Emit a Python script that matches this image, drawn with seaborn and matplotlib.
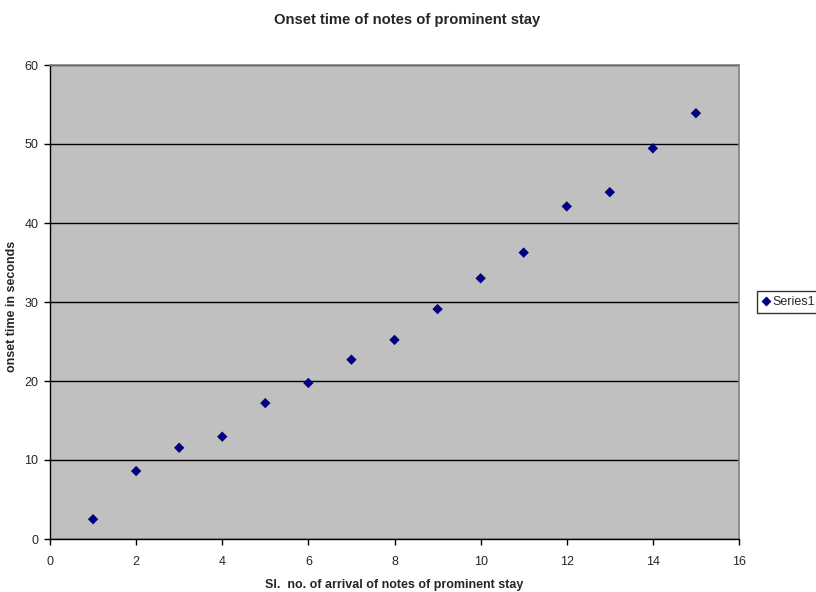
import matplotlib
matplotlib.use("Agg")
import matplotlib.pyplot as plt
import seaborn as sns
import pandas as pd

# values
note_no = [1, 2, 3, 4, 5, 6, 7, 8, 9, 10, 11, 12, 13, 14, 15]
onset_sec = [2.5, 8.6, 11.55, 12.95, 17.2, 19.75, 22.7, 25.2, 29.1,
             33.0, 36.25, 42.1, 43.9, 49.45, 53.9]
x_ticks = [0, 2, 4, 6, 8, 10, 12, 14, 16]
y_ticks = [0, 10, 20, 30, 40, 50, 60]

df = pd.DataFrame({"note": note_no, "onset": onset_sec, "series": "Series1"})

sns.set_theme(style="white")
plt.rcParams["font.family"] = ["Liberation Sans", "DejaVu Sans"]

fig = plt.figure(figsize=(8.16, 5.92), dpi=100)
ax = fig.add_axes([50 / 816, 1 - 539 / 592, 689 / 816, 474 / 592])
ax.set_facecolor("#c0c0c0")

sns.scatterplot(data=df, x="note", y="onset", hue="series",
                palette=["#000080"], marker="D", s=28, edgecolor="none",
                ax=ax, zorder=3)

ax.set_xlim(0, 16)
ax.set_ylim(0, 60)
ax.set_xticks(x_ticks)
ax.set_yticks(y_ticks)
ax.yaxis.grid(True, color="black", linewidth=1)
ax.set_axisbelow(True)
ax.tick_params(axis="both", labelsize=9, length=4, width=1, color="black",
               direction="out", bottom=True, left=True)
ax.tick_params(axis="x", pad=8)
ax.tick_params(axis="y", pad=4.5)

for side in ("top", "right"):
    ax.spines[side].set_color("#808080")
    ax.spines[side].set_linewidth(1.2)
for side in ("left", "bottom"):
    ax.spines[side].set_color("black")
    ax.spines[side].set_linewidth(1)

ax.set_xlabel("Sl.  no. of arrival of notes of prominent stay",
              fontsize=9, fontweight="bold")
ax.set_ylabel("onset time in seconds", fontsize=9, fontweight="bold")
ax.xaxis.set_label_coords(0.5, -0.085)
ax.yaxis.set_label_coords(-0.046, 0.49)

fig.suptitle("Onset time of notes of prominent stay", x=0.499, y=0.978,
             fontsize=10.6, fontweight="bold")

# legend box runs off the right edge, as in the reference
leg = ax.legend(loc="center left", bbox_to_anchor=(1.026, 0.5),
                borderaxespad=0, frameon=True, fontsize=9,
                handletextpad=0.25, borderpad=0.4, handlelength=0.6,
                fancybox=False, markerscale=0.9)
leg.get_frame().set_edgecolor("black")
leg.get_frame().set_linewidth(1)

fig.savefig("out.png", dpi=100)
